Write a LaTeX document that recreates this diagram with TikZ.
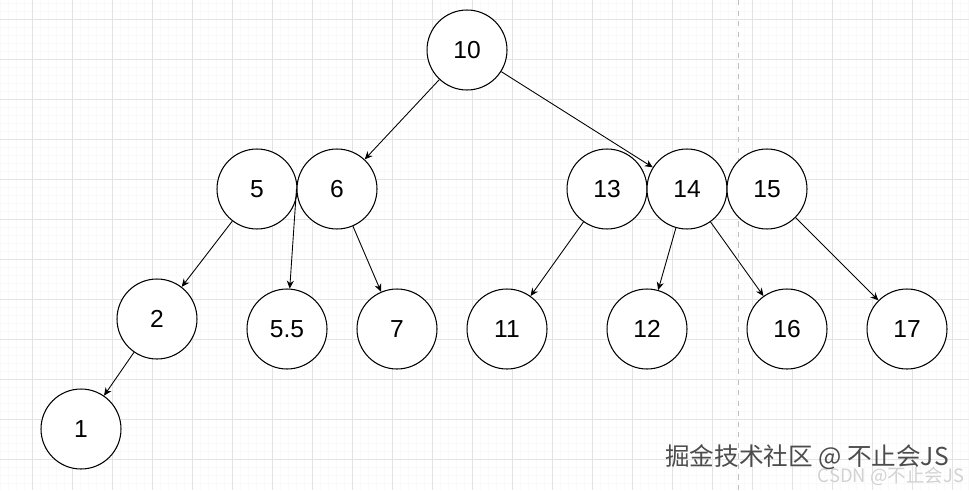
\documentclass[tikz,border=0pt]{standalone}
\usepackage{fontspec}
\setmainfont{Liberation Sans}
\newfontfamily\cjkfont{Noto Sans CJK SC}
\usepackage{tikz}
\usetikzlibrary{arrows.meta,calc}

\begin{document}
\begin{tikzpicture}[x=0.02cm, y=-0.02cm, >={Stealth[length=4.5pt, width=4pt]},
    keynode/.style={circle, draw, fill=white, line width=0.6pt,
        minimum size=1.6cm, inner sep=0pt, font=\fontsize{14}{16}\selectfont},
    link/.style={->, line width=0.5pt}]

    \useasboundingbox (0,0) rectangle (969,490);
    \fill[white] (0,0) rectangle (969,490);

    % --- background grid ---
    \foreach \x in {0,8,...,968}
        \draw[gray!5, line width=0.3pt] (\x,0) -- (\x,490);
    \foreach \y in {3,11,...,490}
        \draw[gray!5, line width=0.3pt] (0,\y) -- (969,\y);
    \foreach \x in {32,72,...,952}
        \draw[gray!22, line width=0.4pt] (\x,0) -- (\x,490);
    \foreach \y in {19,59,...,459}
        \draw[gray!22, line width=0.4pt] (0,\y) -- (969,\y);

    % page border
    \draw[gray!50, dashed, line width=0.4pt] (738,0) -- (738,490);

    % --- keys ---
    \node[keynode] (n10) at (467,50) {10};

    \node[keynode] (n5)  at (257,189) {5};
    \node[keynode] (n6)  at (337,189) {6};
    \node[keynode] (n13) at (607,189) {13};
    \node[keynode] (n14) at (687,189) {14};
    \node[keynode] (n15) at (767,189) {15};

    \node[keynode] (n2)  at (157,319) {2};
    \node[keynode] (n55) at (287,329) {5.5};
    \node[keynode] (n7)  at (397,329) {7};
    \node[keynode] (n11) at (507,329) {11};
    \node[keynode] (n12) at (647,329) {12};
    \node[keynode] (n16) at (787,329) {16};
    \node[keynode] (n17) at (907,329) {17};

    \node[keynode] (n1)  at (81,429) {1};

    % --- links ---
    \draw[link] (n10) -- (n6);
    \draw[link] (n10) -- (n14);
    \draw[link] (n5) -- (n2);
    \draw[link] (n6.west) -- (n55);
    \draw[link] (n6) -- (n7);
    \draw[link] (n13) -- (n11);
    \draw[link] (n14) -- (n12);
    \draw[link] (n14) -- (n16);
    \draw[link] (n15) -- (n17);
    \draw[link] (n2) -- (n1);

    % --- watermark ---
    \node[text=gray!35, font=\cjkfont\fontsize{10.5}{12}\selectfont] (csdn) at (891,476) {CSDN @不止会JS};
    \node[text=black!70, font=\cjkfont\fontsize{14}{16}\selectfont] (juejin) at (807,457) {掘金技术社区 @ 不止会JS};

\end{tikzpicture}
\end{document}
